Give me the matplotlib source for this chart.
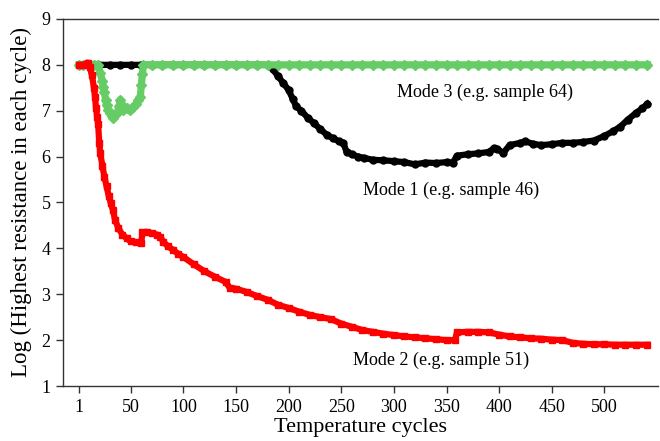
import matplotlib
matplotlib.use('Agg')
import matplotlib.pyplot as plt

# Mode 1 (sample 46) - black circles
m1_x = [1, 10, 20, 30, 40, 50, 60, 70, 80, 90, 100, 110, 120, 130, 140, 150, 160, 170, 180,
        185, 190, 195, 200, 204, 207, 212, 218, 224, 230, 236, 242, 248, 252, 255, 260, 266,
        272, 280, 290, 300, 310, 320, 330, 340, 350, 356, 360, 370, 380, 390, 395, 398, 404,
        410, 420, 425, 432, 440, 450, 460, 470, 480, 490, 500, 508, 515, 522, 530, 536, 541]
m1_y = [8.0, 8.0, 8.0, 8.0, 8.0, 8.0, 8.0, 8.0, 8.0, 8.0, 8.0, 8.0, 8.0, 8.0, 8.0, 8.0, 8.0, 8.0, 8.0,
        7.9, 7.75, 7.6, 7.45, 7.25, 7.1, 7.0, 6.85, 6.73, 6.6, 6.48, 6.4, 6.33, 6.3, 6.1, 6.05, 6.0,
        5.97, 5.93, 5.92, 5.9, 5.88, 5.83, 5.87, 5.86, 5.88, 5.87, 6.02, 6.05, 6.07, 6.1, 6.18, 6.17, 6.08,
        6.25, 6.3, 6.33, 6.28, 6.25, 6.27, 6.3, 6.3, 6.32, 6.35, 6.45, 6.55, 6.65, 6.8, 6.95, 7.05, 7.15]

# Mode 2 (sample 51) - red squares
m2_x = [1, 5, 9, 11, 13, 15, 16, 17, 18, 19, 20, 21, 23, 25, 27, 29, 31, 33, 35, 38, 42, 46, 50,
        55, 60, 61, 65, 70, 75, 78, 81, 85, 90, 95, 100, 110, 120, 130, 140, 144, 150, 160, 170,
        180, 190, 200, 210, 220, 230, 240, 250, 260, 270, 280, 290, 300, 310, 320, 330, 340, 350,
        358, 360, 370, 380, 390, 400, 410, 420, 430, 440, 450, 460, 470, 480, 490, 500, 510, 520,
        530, 541]
m2_y = [8.0, 8.0, 8.05, 7.95, 7.78, 7.5, 7.3, 7.05, 6.87, 6.7, 6.3, 6.07, 5.8, 5.55, 5.35, 5.15,
        4.98, 4.84, 4.62, 4.45, 4.3, 4.22, 4.15, 4.13, 4.12, 4.35, 4.36, 4.33, 4.3, 4.25, 4.14, 4.05,
        3.97, 3.88, 3.81, 3.65, 3.5, 3.38, 3.27, 3.14, 3.12, 3.05, 2.96, 2.88, 2.77, 2.7, 2.62, 2.55,
        2.5, 2.46, 2.36, 2.29, 2.22, 2.18, 2.14, 2.11, 2.08, 2.06, 2.04, 2.02, 2.0, 2.0, 2.17, 2.18,
        2.18, 2.17, 2.12, 2.08, 2.06, 2.04, 2.03, 2.01, 2.0, 1.94, 1.92, 1.91, 1.91, 1.9, 1.9, 1.9, 1.9]

# Mode 3 (sample 64) - green diamonds
m3_x = [1, 5, 10, 15, 19, 21, 23, 24, 25, 26, 27, 28.5, 30, 32, 33.5, 35, 37, 39, 40, 41, 43, 46,
        49, 52, 55, 57, 59, 60, 61, 62, 70, 80, 90, 100, 110, 120, 130, 140, 150, 160, 170, 180,
        190, 200, 210, 220, 230, 240, 250, 260, 270, 280, 290, 300, 310, 320, 330, 340, 350, 360,
        370, 380, 390, 400, 410, 420, 430, 440, 450, 460, 470, 480, 490, 500, 510, 520, 530, 541]
m3_y = [8.0, 8.0, 8.0, 8.0, 8.0, 7.82, 7.65, 7.52, 7.4, 7.24, 7.12, 7.02, 6.95, 6.88, 6.84, 6.9,
        6.95, 7.1, 7.24, 7.15, 7.02, 7.05, 7.02, 7.08, 7.15, 7.24, 7.3, 7.55, 7.8, 8.0, 8.0, 8.0, 8.0,
        8.0, 8.0, 8.0, 8.0, 8.0, 8.0, 8.0, 8.0, 8.0, 8.0, 8.0, 8.0, 8.0, 8.0, 8.0, 8.0, 8.0, 8.0,
        8.0, 8.0, 8.0, 8.0, 8.0, 8.0, 8.0, 8.0, 8.0, 8.0, 8.0, 8.0, 8.0, 8.0, 8.0, 8.0, 8.0, 8.0,
        8.0, 8.0, 8.0, 8.0, 8.0, 8.0, 8.0, 8.0, 8.0]

x_ticks = [1, 50, 100, 150, 200, 250, 300, 350, 400, 450, 500]
y_ticks = [1, 2, 3, 4, 5, 6, 7, 8, 9]

plt.rcParams['font.family'] = ['Liberation Serif', 'DejaVu Serif']

fig = plt.figure(figsize=(6.6, 4.41), dpi=100)
ax = fig.add_axes([0.0955, 0.1247, 0.9015, 0.8323])

ax.plot(m1_x, m1_y, color='black', marker='o', ms=5, lw=4.5, mec='black')
ax.plot(m3_x, m3_y, color='#66cc66', marker='D', ms=5, lw=5.2, mec='#66cc66')
ax.plot(m2_x, m2_y, color='#ff0000', marker='s', ms=4.5, lw=4.5, mec='#ff0000')

ax.text(303, 7.39, 'Mode 3 (e.g. sample 64)', fontsize=13, va='center')
ax.text(271, 5.27, 'Mode 1 (e.g. sample 46)', fontsize=13, va='center')
ax.text(261, 1.57, 'Mode 2 (e.g. sample 51)', fontsize=13, va='center')

ax.set_xlim(-14.4, 551)
ax.set_ylim(1, 9)
ax.set_xticks(x_ticks)
ax.set_yticks(y_ticks)
ax.tick_params(labelsize=13, direction='out', length=5, width=1, color='#333333', pad=4)
for s in ['left', 'bottom', 'top']:
    ax.spines[s].set_color('#333333')
    ax.spines[s].set_linewidth(1)
ax.spines['right'].set_visible(False)

ax.set_xlabel('Temperature cycles', fontsize=16, labelpad=2)
ax.set_ylabel('Log (Highest resistance in each cycle)', fontsize=16.5, labelpad=7)

fig.savefig('out.png', dpi=100)
